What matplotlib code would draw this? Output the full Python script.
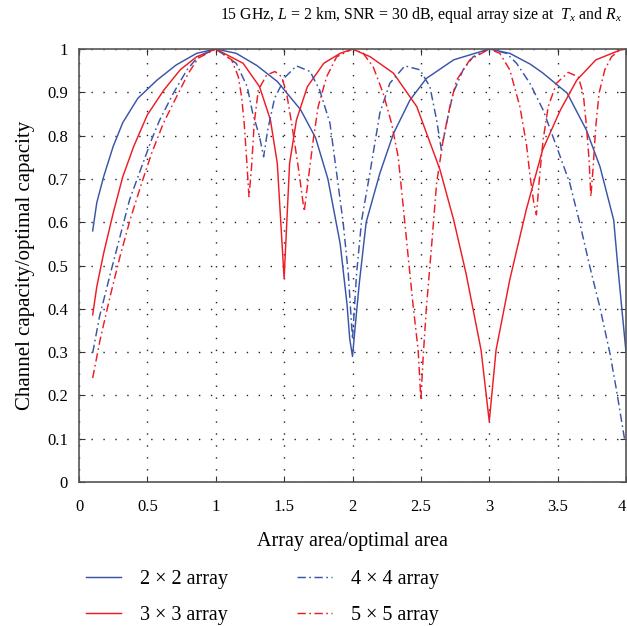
import matplotlib
matplotlib.use("Agg")
import matplotlib.pyplot as plt

plt.rcParams['font.family'] = ['Liberation Serif', 'DejaVu Serif']
plt.rcParams['mathtext.fontset'] = 'custom'
plt.rcParams['mathtext.rm'] = 'Liberation Serif'
plt.rcParams['mathtext.it'] = 'Liberation Serif:italic'
plt.rcParams['lines.scale_dashes'] = False

title = r"15 GHz, $L$ = 2 km, SNR = 30 dB, equal array size at  $T_x$ and $R_x$"
xlabel = "Array area/optimal area"
ylabel = "Channel capacity/optimal capacity"
labels = ["2 × 2 array", "3 × 3 array", "4 × 4 array", "5 × 5 array"]

x_2x2 = [0.1, 0.13, 0.18, 0.25, 0.32, 0.43, 0.57, 0.71, 0.86, 1.0, 1.15, 1.3, 1.45, 1.62,
         1.73, 1.82, 1.91, 1.96, 1.98, 2.0, 2.02, 2.05, 2.1, 2.2, 2.3, 2.42, 2.54, 2.74,
         3.0, 3.15, 3.3, 3.39, 3.57, 3.71, 3.81, 3.91, 3.94, 4.0]
y_2x2 = [0.58, 0.645, 0.705, 0.775, 0.83, 0.886, 0.928, 0.963, 0.99, 1.0, 0.99, 0.962,
         0.925, 0.86, 0.795, 0.70, 0.55, 0.41, 0.33, 0.29, 0.36, 0.46, 0.60, 0.713, 0.805,
         0.882, 0.932, 0.975, 1.0, 0.99, 0.965, 0.945, 0.898, 0.813, 0.728, 0.605, 0.498, 0.30]

x_3x3 = [0.1, 0.13, 0.18, 0.25, 0.32, 0.4, 0.5, 0.62, 0.74, 0.86, 1.0, 1.2, 1.32, 1.4, 1.45,
         1.5, 1.54, 1.59, 1.67, 1.79, 1.91, 2.0, 2.13, 2.3, 2.47, 2.64, 2.74, 2.83, 2.94,
         3.0, 3.05, 3.15, 3.27, 3.39, 3.52, 3.64, 3.78, 3.96, 4.0]
y_3x3 = [0.386, 0.451, 0.528, 0.621, 0.705, 0.775, 0.848, 0.905, 0.952, 0.982, 1.0, 0.967,
         0.913, 0.836, 0.736, 0.47, 0.736, 0.836, 0.913, 0.967, 0.99, 1.0, 0.982, 0.944,
         0.867, 0.721, 0.605, 0.482, 0.305, 0.14, 0.305, 0.467, 0.628, 0.767, 0.859, 0.928,
         0.975, 0.998, 1.0]

x_4x4 = [0.1, 0.15, 0.23, 0.3, 0.37, 0.45, 0.53, 0.59, 0.69, 0.79, 0.87, 1.0, 1.15, 1.23,
         1.27, 1.32, 1.35, 1.38, 1.43, 1.51, 1.59, 1.69, 1.76, 1.835, 1.884, 1.932, 1.969,
         2.0, 2.03, 2.067, 2.127, 2.2, 2.273, 2.383, 2.493, 2.566, 2.615, 2.65, 2.688, 2.736,
         2.809, 2.882, 3.0, 3.126, 3.2, 3.297, 3.394, 3.492, 3.589, 3.662, 3.735, 3.808,
         3.882, 3.93, 3.99]
y_4x4 = [0.298, 0.382, 0.482, 0.567, 0.652, 0.721, 0.79, 0.836, 0.898, 0.952, 0.982, 1.0,
         0.967, 0.913, 0.852, 0.798, 0.751, 0.813, 0.886, 0.936, 0.961, 0.948, 0.905, 0.829,
         0.713, 0.598, 0.482, 0.33, 0.482, 0.605, 0.713, 0.852, 0.921, 0.961, 0.952, 0.913,
         0.836, 0.767, 0.829, 0.898, 0.952, 0.982, 1.0, 0.99, 0.967, 0.921, 0.859, 0.775,
         0.69, 0.598, 0.498, 0.405, 0.298, 0.213, 0.098]

x_5x5 = [0.1, 0.154, 0.227, 0.3, 0.373, 0.458, 0.531, 0.616, 0.714, 0.8, 0.872, 1.0, 1.116,
         1.165, 1.189, 1.208, 1.226, 1.243, 1.262, 1.281, 1.311, 1.372, 1.433, 1.482, 1.518,
         1.555, 1.603, 1.647, 1.676, 1.713, 1.749, 1.811, 1.884, 2.0, 2.078, 2.151, 2.224,
         2.286, 2.334, 2.371, 2.407, 2.444, 2.48, 2.5, 2.517, 2.541, 2.578, 2.615, 2.663,
         2.712, 2.761, 2.858, 3.0, 3.077, 3.15, 3.224, 3.272, 3.297, 3.326, 3.345, 3.37,
         3.394, 3.431, 3.492, 3.577, 3.65, 3.687, 3.711, 3.73, 3.743, 3.76, 3.779, 3.803,
         3.845, 3.894, 3.955, 4.0]
y_5x5 = [0.24, 0.328, 0.428, 0.521, 0.605, 0.69, 0.759, 0.828, 0.89, 0.944, 0.979, 1.0, 0.975,
         0.936, 0.89, 0.828, 0.744, 0.659, 0.728, 0.828, 0.905, 0.94, 0.948, 0.936, 0.898,
         0.828, 0.728, 0.625, 0.698, 0.79, 0.867, 0.936, 0.982, 1.0, 0.99, 0.959, 0.898,
         0.828, 0.751, 0.636, 0.521, 0.405, 0.305, 0.19, 0.29, 0.405, 0.544, 0.69, 0.79,
         0.867, 0.928, 0.975, 1.0, 0.99, 0.952, 0.867, 0.78, 0.71, 0.644, 0.617, 0.713,
         0.79, 0.867, 0.921, 0.946, 0.936, 0.898, 0.821, 0.744, 0.659, 0.728, 0.821, 0.898,
         0.952, 0.982, 0.998, 1.0]

xticks = [0, 0.5, 1, 1.5, 2, 2.5, 3, 3.5, 4]
xticklabels = ["0", "0.5", "1", "1.5", "2", "2.5", "3", "3.5", "4"]
yticks = [0, 0.1, 0.2, 0.3, 0.4, 0.5, 0.6, 0.7, 0.8, 0.9, 1]
yticklabels = ["0", "0.1", "0.2", "0.3", "0.4", "0.5", "0.6", "0.7", "0.8", "0.9", "1"]

BLUE = "#3a55a8"
RED = "#ee1c25"
DASHDOT = (0, (6, 2.5, 1.2, 2.5))

fig = plt.figure(figsize=(6.27, 6.26), dpi=100)
ax = fig.add_axes([79 / 627, 1 - 482 / 626, (626 - 79) / 627, (482 - 49) / 626])

l1, = ax.plot(x_2x2, y_2x2, color=BLUE, lw=1.05, label=labels[0])
l2, = ax.plot(x_3x3, y_3x3, color=RED, lw=1.05, label=labels[1])
l3, = ax.plot(x_4x4, y_4x4, color=BLUE, lw=1.05, linestyle=DASHDOT, label=labels[2])
l4, = ax.plot(x_5x5, y_5x5, color=RED, lw=1.05, linestyle=DASHDOT, label=labels[3])

ax.set_xlim(0, 4)
ax.set_ylim(0, 1)
ax.set_xticks(xticks)
ax.set_xticklabels(xticklabels)
ax.set_yticks(yticks)
ax.set_yticklabels(yticklabels)
ax.get_xticklabels()[-1].set_horizontalalignment("right")
ax.grid(True, color="#222222", linestyle=(0, (1, 7.6)), linewidth=1.0)
ax.tick_params(direction="in", top=True, right=True, length=4, width=0.8,
               labelsize=12, pad=8, colors="#333333", labelcolor="black")
ax.tick_params(axis="x", pad=12.5)
for s in ax.spines.values():
    s.set_color("#555555")
    s.set_linewidth(1.2)

ax.set_xlabel(xlabel, fontsize=14.5, labelpad=12)
ax.set_ylabel(ylabel, fontsize=15, labelpad=9)
fig.text(622 / 627, 1 - 15 / 626, title, fontsize=11.4, ha="right", va="center")

fig.legend(handles=[l1, l2, l3, l4], loc="upper left", bbox_to_anchor=(86 / 627, 1 - 570 / 626),
           ncol=2, frameon=False, fontsize=14.5, handlelength=1.73, handletextpad=0.94,
           columnspacing=3.45, labelspacing=0.84, borderpad=0, borderaxespad=0)

fig.savefig("out.png", dpi=100)
